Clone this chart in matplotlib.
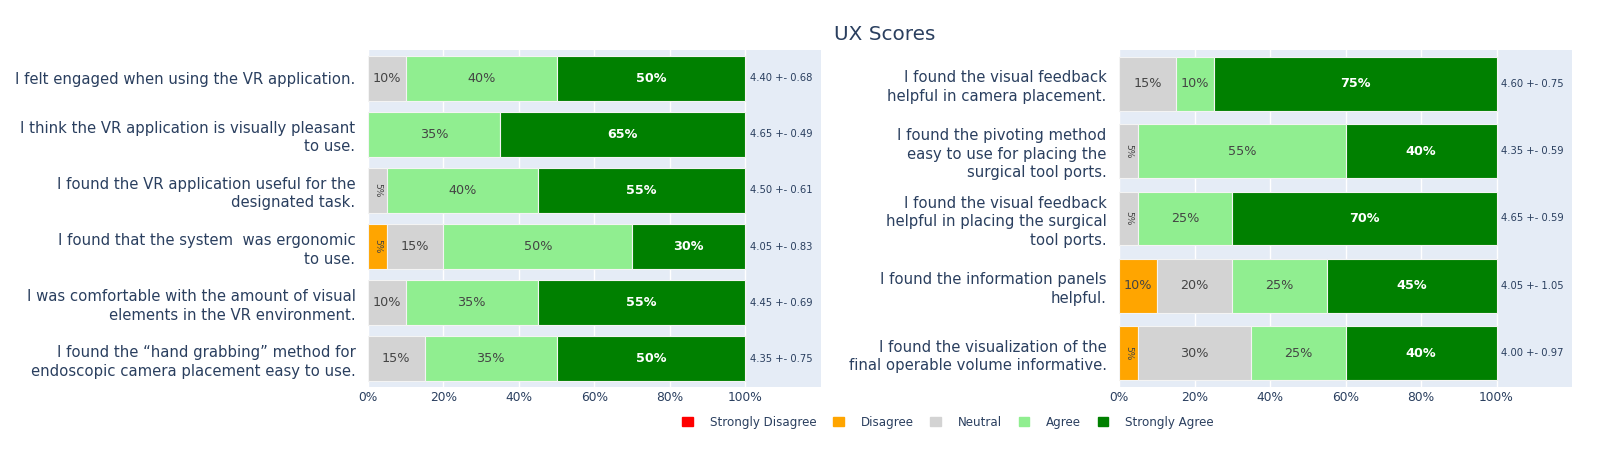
import matplotlib.pyplot as plt
from matplotlib.patches import Patch

# Likert categories and colours
levels = ['Strongly Disagree', 'Disagree', 'Neutral', 'Agree', 'Strongly Agree']
level_colors = ['#FF0000', '#FFA500', '#D3D3D3', '#90EE90', '#008000']

# Left panel
left_questions = [
    'I felt engaged when using the VR application.',
    'I think the VR application is visually pleasant\nto use.',
    'I found the VR application useful for the\ndesignated task.',
    'I found that the system  was ergonomic\nto use.',
    'I was comfortable with the amount of visual\nelements in the VR environment.',
    'I found the \u201chand grabbing\u201d method for\nendoscopic camera placement easy to use.',
]
left_sd = [0, 0, 0, 0, 0, 0]
left_d = [0, 0, 0, 5, 0, 0]
left_n = [10, 0, 5, 15, 10, 15]
left_a = [40, 35, 40, 50, 35, 35]
left_sa = [50, 65, 55, 30, 55, 50]
left_stats = ['4.40 +- 0.68', '4.65 +- 0.49', '4.50 +- 0.61',
              '4.05 +- 0.83', '4.45 +- 0.69', '4.35 +- 0.75']

# Right panel
right_questions = [
    'I found the visual feedback\nhelpful in camera placement.',
    'I found the pivoting method\neasy to use for placing the\nsurgical tool ports.',
    'I found the visual feedback\nhelpful in placing the surgical\ntool ports.',
    'I found the information panels\nhelpful.',
    'I found the visualization of the\nfinal operable volume informative.',
]
right_sd = [0, 0, 0, 0, 0]
right_d = [0, 0, 0, 10, 5]
right_n = [15, 5, 5, 20, 30]
right_a = [10, 55, 25, 25, 25]
right_sa = [75, 40, 70, 45, 40]
right_stats = ['4.60 +- 0.75', '4.35 +- 0.59', '4.65 +- 0.59',
               '4.05 +- 1.05', '4.00 +- 0.97']

text_col = '#2a3f5f'
plt.rcParams['font.family'] = ['DejaVu Sans']

fig = plt.figure(figsize=(16, 4.5), dpi=100)
ax_left = fig.add_axes([0.23, 0.14, 0.283, 0.749])
ax_right = fig.add_axes([0.6995, 0.14, 0.283, 0.749])


def draw_panel(ax, questions, series, stats):
    ypos = list(range(len(questions)))
    left = [0.0] * len(questions)
    for k, vals in enumerate(series):
        fracs = [v / 100 for v in vals]
        ax.barh(ypos, fracs, left=left, height=0.8, color=level_colors[k],
                edgecolor='#f4f4f4', linewidth=0.8, zorder=2)
        for i, v in enumerate(vals):
            if v == 0:
                continue
            cx = left[i] + fracs[i] / 2
            if v <= 5:
                ax.text(cx, i, f'{v}%', rotation=-90, ha='center', va='center',
                        fontsize=6.5, color='#444444', zorder=3)
            elif k == 4:
                ax.text(cx, i, f'{v}%', ha='center', va='center', fontsize=9.2,
                        color='white', fontweight='bold', zorder=3)
            else:
                ax.text(cx, i, f'{v}%', ha='center', va='center', fontsize=9.2,
                        color='#444444', zorder=3)
        left = [l + f for l, f in zip(left, fracs)]
    for i, s in enumerate(stats):
        ax.text(1.013, i, s, ha='left', va='center', fontsize=7.2, color=text_col)

    ax.set_xlim(0, 1.2)
    ax.set_ylim(len(questions) - 0.5, -0.5)
    ax.set_facecolor('#E5ECF6')
    ax.set_xticks([0, 0.2, 0.4, 0.6, 0.8, 1.0])
    ax.set_xticklabels(['0%', '20%', '40%', '60%', '80%', '100%'])
    ax.set_yticks(ypos)
    ax.set_yticklabels(questions, fontsize=10.7, color=text_col, linespacing=1.3)
    ax.tick_params(axis='x', length=0, labelsize=8.8, labelcolor=text_col, pad=3)
    ax.tick_params(axis='y', length=0, pad=9)
    ax.grid(axis='x', color='white', linewidth=1, zorder=0)
    ax.set_axisbelow(True)
    for sp in ax.spines.values():
        sp.set_visible(False)


draw_panel(ax_left, left_questions,
           [left_sd, left_d, left_n, left_a, left_sa], left_stats)
draw_panel(ax_right, right_questions,
           [right_sd, right_d, right_n, right_a, right_sa], right_stats)

fig.text(0.553, 1 - 35 / 450, 'UX Scores', ha='center', va='center',
         fontsize=14.4, color=text_col)

handles = [Patch(facecolor=c, edgecolor=c) for c in level_colors]
fig.legend(handles, levels, loc='center', bbox_to_anchor=(0.5925, 0.062),
           ncol=5, frameon=False, fontsize=8.6, labelcolor=text_col,
           handlelength=0.9, handleheight=0.9, handletextpad=1.4,
           columnspacing=1.4)

fig.savefig('out.png', dpi=100)
